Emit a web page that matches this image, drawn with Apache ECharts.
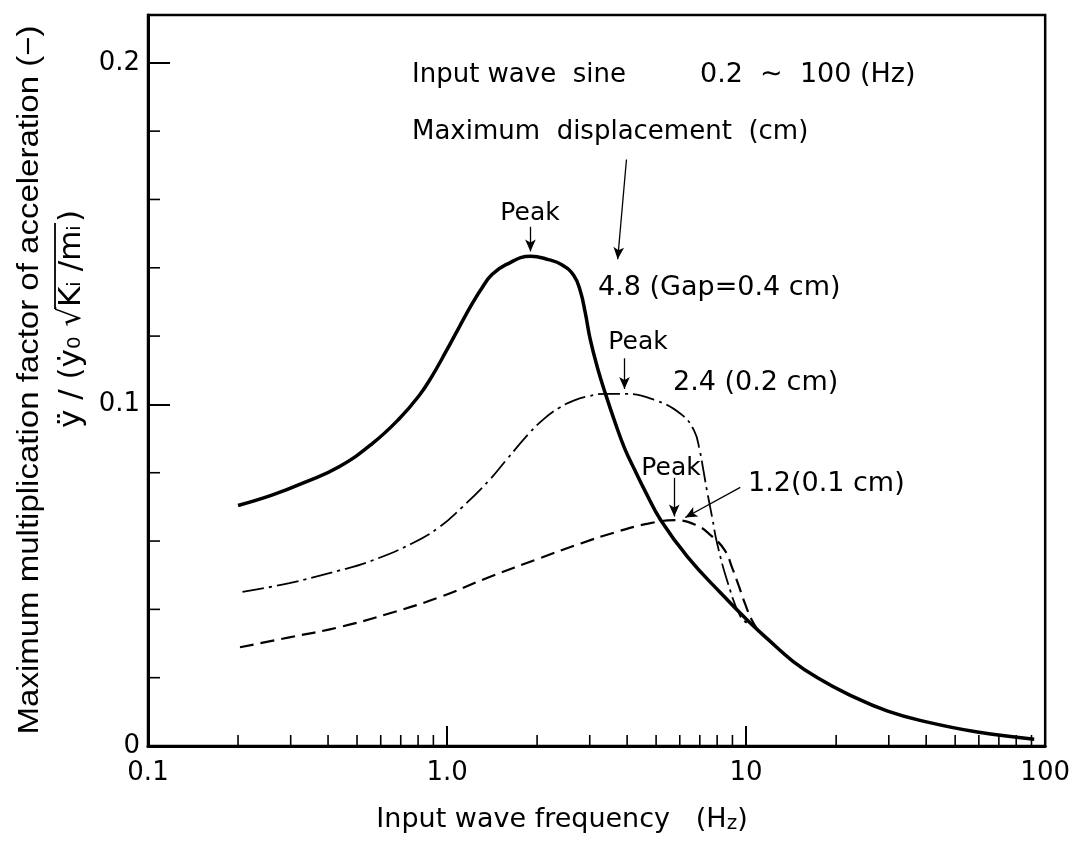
<!DOCTYPE html>
<html>
<head>
<meta charset="utf-8">
<script src="https://cdn.jsdelivr.net/npm/echarts@6/dist/echarts.min.js"></script>
<style>
html, body { margin: 0; padding: 0; background: #fff; }
#main { width: 1073px; height: 842px; }
</style>
</head>
<body>
<div id="main"></div>
<script>
// values: input frequency (Hz) -> max multiplication factor
const freq48 = [0.2, 0.261, 0.339, 0.437, 0.562, 0.692, 0.807, 0.891, 0.992, 1.096, 1.212, 1.308, 1.413, 1.573, 1.905, 2.18, 2.42, 2.65, 2.79, 2.9, 3.01, 3.18, 3.38, 3.65, 3.93, 4.27, 4.59, 5.19, 6.39, 8.24, 10.1, 11.84, 14.34, 17.38, 21.88, 29.74, 40.43, 59.35, 91.9]
const amp48 = [0.0704, 0.0735, 0.0774, 0.0818, 0.0885, 0.0958, 0.1026, 0.1083, 0.1155, 0.1225, 0.1294, 0.1341, 0.138, 0.1409, 0.1434, 0.1424, 0.1409, 0.1378, 0.1332, 0.1267, 0.1191, 0.1109, 0.1033, 0.0946, 0.087, 0.0803, 0.0747, 0.066, 0.0552, 0.0447, 0.0368, 0.0312, 0.0248, 0.0199, 0.0152, 0.0102, 0.007, 0.0041, 0.002]

const freq24 = [0.207, 0.297, 0.437, 0.562, 0.763, 0.94, 1.12, 1.38, 1.57, 1.87, 2.1, 2.36, 2.65, 2.97, 3.38, 3.93, 4.94, 6.05, 6.7, 7.0, 7.2, 7.4, 7.7, 8.0, 8.7, 9.6, 10.3]
const amp24 = [0.0451, 0.0477, 0.0514, 0.0543, 0.0593, 0.064, 0.0698, 0.0777, 0.0835, 0.0913, 0.0956, 0.0989, 0.1011, 0.1024, 0.1031, 0.1031, 0.1013, 0.0972, 0.0923, 0.0864, 0.0806, 0.0747, 0.0669, 0.0593, 0.0476, 0.0377, 0.0356]

const freq12 = [0.203, 0.297, 0.437, 0.64, 0.94, 1.38, 2.03, 2.8, 3.63, 4.7, 5.79, 6.76, 7.64, 8.5, 8.97, 9.44, 9.9, 10.46, 11.3]
const amp12 = [0.0289, 0.0318, 0.0348, 0.0388, 0.0435, 0.0494, 0.0549, 0.0593, 0.0625, 0.0651, 0.0661, 0.0648, 0.0616, 0.0572, 0.0523, 0.047, 0.0418, 0.0368, 0.032]

const xTickLabels = ['0.1', '1.0', '10', '100']
const yTickLabels = ['0', '0.1', '0.2']
const xMinorTicks = [0.2, 0.3, 0.4, 0.5, 0.6, 0.7, 0.8, 0.9, 2, 3, 4, 5, 6, 7, 8, 9, 20, 30, 40, 50, 60, 70, 80, 90]
const yMinorTicks = [0.02, 0.04, 0.06, 0.08, 0.12, 0.14, 0.16, 0.18]

const pair = (xs, ys) => xs.map((x, i) => [x, ys[i]])
const FONT = '"DejaVu Sans", sans-serif'

const myChart = echarts.init(document.getElementById('main'), null, { renderer: 'canvas' })

// width of a text piece, for placing the root bar in the y title
const ctx = document.createElement('canvas').getContext('2d')
const measure = (t, size) => {
	ctx.font = size + 'px "DejaVu Sans"'
	return ctx.measureText(t).width
}
const t1 = 'ÿ / (ẏ₀ √'
const t2 = 'Kᵢ /mᵢ'
const w1 = measure(t1, 31)
const w2 = measure(t2, 31)

const txt = (x, y, text, size, align) => ({
	type: 'text', x: x, y: y, silent: true,
	style: { text: text, fontSize: size, fontFamily: FONT, fill: '#000', align: align || 'left', verticalAlign: 'middle' }
})

const minorTick = (horizontal, len) => (params, api) => {
	const p = horizontal ? api.coord([0.1, api.value(1)]) : api.coord([api.value(0), 0])
	return {
		type: 'line',
		shape: horizontal ? { x1: p[0], y1: p[1], x2: p[0] + len, y2: p[1] } : { x1: p[0], y1: p[1], x2: p[0], y2: p[1] - len },
		style: { stroke: '#000', lineWidth: 1.6 }
	}
}

myChart.setOption({
	animation: false,
	backgroundColor: '#fff',
	grid: {
		left: 148,
		right: 27,
		top: 15,
		bottom: 96,
		show: true,
		borderColor: '#000',
		borderWidth: 2.5
	},
	xAxis: {
		type: 'log',
		logBase: 10,
		min: 0.1,
		max: 100,
		axisLine: { lineStyle: { color: '#000', width: 3 } },
		axisTick: { inside: true, length: 20, lineStyle: { color: '#000', width: 2 } },
		splitLine: { show: false },
		axisLabel: {
			color: '#000', fontSize: 26, fontFamily: FONT, margin: 14,
			formatter: v => xTickLabels[Math.round(Math.log10(v)) + 1]
		}
	},
	yAxis: {
		type: 'value',
		min: 0,
		max: 0.214,
		interval: 0.1,
		axisLine: { lineStyle: { color: '#000', width: 3 } },
		axisTick: { inside: true, length: 22, lineStyle: { color: '#000', width: 2 } },
		splitLine: { show: false },
		axisLabel: {
			color: '#000', fontSize: 26, fontFamily: FONT, margin: 8,
			formatter: v => {
				const k = Math.round(v * 10)
				return Math.abs(v * 10 - k) < 1e-6 ? yTickLabels[k] : ''
			}
		}
	},
	series: [
		{
			name: '4.8', type: 'line', data: pair(freq48, amp48),
			showSymbol: false, smooth: 0.45,
			lineStyle: { color: '#000', width: 3.5 },
			markLine: {
				silent: true,
				symbol: ['none', 'arrow'],
				symbolSize: [8, 12],
				lineStyle: { color: '#000', width: 1.3, type: 'solid' },
				label: { show: false },
				data: [
					[{ coord: [1.9, 0.152] }, { coord: [1.9, 0.1448] }],
					[{ coord: [3.98, 0.1717] }, { coord: [3.72, 0.1425] }],
					[{ coord: [3.92, 0.1135] }, { coord: [3.92, 0.1045] }],
					[{ coord: [5.75, 0.0785] }, { coord: [5.75, 0.0672] }],
					[{ coord: [9.56, 0.0757] }, { coord: [6.26, 0.0669] }]
				]
			}
		},
		{
			name: '2.4', type: 'line', data: pair(freq24, amp24),
			showSymbol: false, smooth: 0.45,
			lineStyle: { color: '#000', width: 1.8, type: [22, 5, 3, 5] }
		},
		{
			name: '1.2', type: 'line', data: pair(freq12, amp12),
			showSymbol: false, smooth: 0.45,
			lineStyle: { color: '#000', width: 2.2, type: [14, 7] }
		},
		{
			type: 'custom', silent: true,
			data: xMinorTicks.map(v => [v, 0]),
			renderItem: minorTick(false, 11)
		},
		{
			type: 'custom', silent: true,
			data: yMinorTicks.map(v => [0.1, v]),
			renderItem: minorTick(true, 12)
		}
	],
	graphic: [
		txt(412, 75, 'Input wave  sine', 26),
		txt(700, 75, '0.2  ∼  100 (Hz)', 27),
		txt(412, 132, 'Maximum  displacement  (cm)', 26),
		txt(530, 213, 'Peak', 25, 'center'),
		txt(598, 288, '4.8 (Gap=0.4 cm)', 27),
		txt(638, 342, 'Peak', 25, 'center'),
		txt(673, 383, '2.4 (0.2 cm)', 27),
		txt(671, 468, 'Peak', 25, 'center'),
		txt(748, 484, '1.2(0.1 cm)', 27),
		{
			type: 'text', x: 562, y: 820, silent: true,
			style: {
				text: 'Input wave frequency   (H{sub|z})',
				fontSize: 27, fontFamily: FONT, fill: '#000', align: 'center', verticalAlign: 'middle',
				rich: { sub: { fontSize: 20, fontFamily: FONT, verticalAlign: 'bottom', padding: [8, 0, 0, 0] } }
			}
		},
		{
			type: 'text', x: 30, y: 380, rotation: Math.PI / 2, scaleX: 1.1, silent: true,
			style: {
				text: 'Maximum multiplication factor of acceleration (−)',
				fontSize: 30, fontFamily: '"Liberation Sans", sans-serif', fill: '#000', align: 'center', verticalAlign: 'middle'
			}
		},
		{
			type: 'group', x: 72, y: 428, rotation: Math.PI / 2, silent: true,
			children: [
				{ type: 'text', x: 0, y: 0, style: { text: t1, fontSize: 31, fontFamily: FONT, fill: '#000', verticalAlign: 'middle' } },
				{ type: 'text', x: w1, y: 0, style: { text: t2, fontSize: 31, fontFamily: FONT, fill: '#000', verticalAlign: 'middle' } },
				{ type: 'line', shape: { x1: w1 - 2, y1: -17, x2: w1 + w2 + 2, y2: -17 }, style: { stroke: '#000', lineWidth: 1.8 } },
				{ type: 'text', x: w1 + w2 + 3, y: 0, style: { text: ')', fontSize: 31, fontFamily: FONT, fill: '#000', verticalAlign: 'middle' } }
			]
		}
	]
})
</script>
</body>
</html>
